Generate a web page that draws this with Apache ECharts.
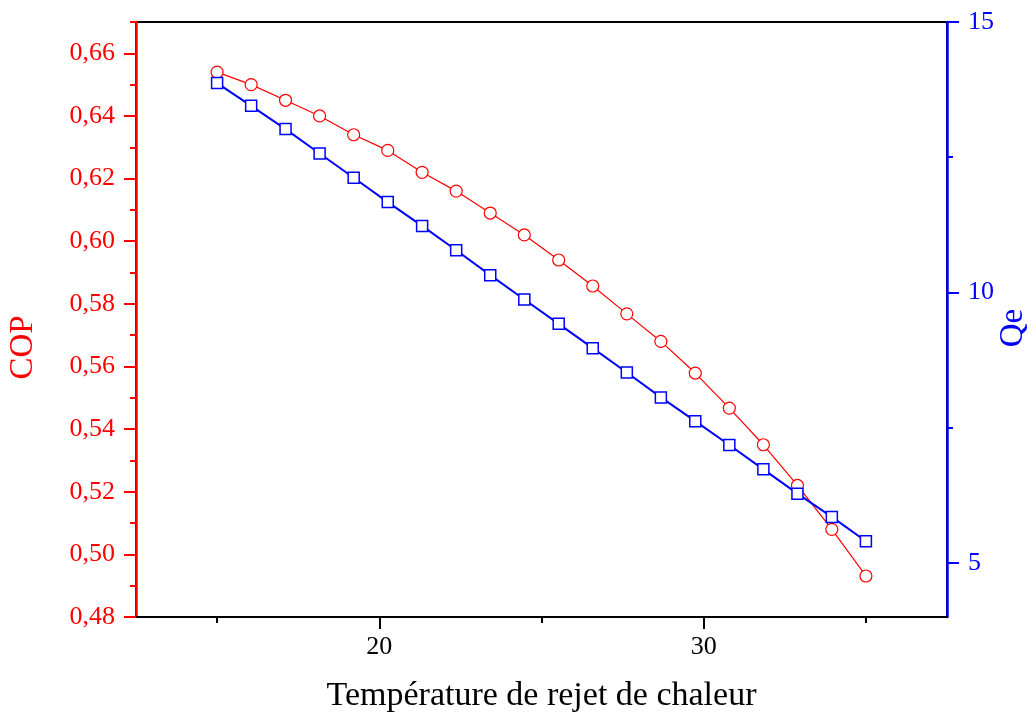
<!DOCTYPE html>
<html>
<head>
<meta charset="utf-8">
<script src="https://cdn.jsdelivr.net/npm/echarts@6/dist/echarts.min.js"></script>
<style>
html,body{margin:0;padding:0;background:#fff;}
#chart{width:1035px;height:720px;}
</style>
</head>
<body>
<div id="chart"></div>
<script>
// Data
const temps = [15, 16.05, 17.11, 18.16, 19.21, 20.26, 21.32, 22.37, 23.42, 24.47, 25.53, 26.58, 27.63, 28.68, 29.74, 30.79, 31.84, 32.89, 33.95, 35];
const cop = [0.654, 0.650, 0.645, 0.640, 0.634, 0.629, 0.622, 0.616, 0.609, 0.602, 0.594, 0.5857, 0.5768, 0.568, 0.5579, 0.5467, 0.535, 0.522, 0.508, 0.4931];
const qe = [13.87, 13.45, 13.02, 12.57, 12.12, 11.67, 11.23, 10.78, 10.32, 9.87, 9.42, 8.97, 8.52, 8.06, 7.62, 7.18, 6.73, 6.28, 5.85, 5.40];

// Tick labels / tick positions
const xMajorTicks = [20, 30];
const xMinorTicks = [15, 25, 35];
const copMajorTicks = [0.48, 0.50, 0.52, 0.54, 0.56, 0.58, 0.60, 0.62, 0.64, 0.66];
const copMinorTicks = [0.49, 0.51, 0.53, 0.55, 0.57, 0.59, 0.61, 0.63, 0.65, 0.67];
const qeMajorTicks = [5, 10, 15];
const qeMinorTicks = [7.5, 12.5];

const xTitle = 'Température de rejet de chaleur';
const copTitle = 'COP';
const qeTitle = 'Qe';

const FONT = '"Liberation Serif", "DejaVu Serif", serif';
const RED = '#ff0000';
const BLUE = '#0000ff';

const chart = echarts.init(document.getElementById('chart'), null, {renderer: 'canvas'});

const xRange = {min: 12.5, max: 37.5};
const copRange = {min: 0.48, max: 0.67};
const qeRange = {min: 4, max: 15};

const option = {
  animation: false,
  backgroundColor: '#fff',
  grid: {
    left: 136, right: 88, top: 22, bottom: 103,
    containLabel: false, outerBoundsMode: 'none',
    show: true, borderColor: '#000', borderWidth: 2, backgroundColor: 'transparent'
  },
  xAxis: [
    {
      type: 'value', position: 'bottom', min: xRange.min, max: xRange.max,
      name: xTitle, nameLocation: 'middle', nameGap: 62,
      nameTextStyle: {fontFamily: FONT, fontSize: 34, color: '#000'},
      axisLine: {show: true, onZero: false, lineStyle: {color: '#000', width: 2}},
      axisTick: {show: true, inside: false, length: 12, customValues: xMajorTicks, lineStyle: {color: '#000', width: 2}},
      axisLabel: {show: true, customValues: xMajorTicks, margin: 17, fontFamily: FONT, fontSize: 26, color: '#000'},
      splitLine: {show: false}
    },
    {
      type: 'value', position: 'bottom', min: xRange.min, max: xRange.max,
      axisLine: {show: false, onZero: false},
      axisTick: {show: true, length: 6, customValues: xMinorTicks, lineStyle: {color: '#000', width: 2}},
      axisLabel: {show: false},
      splitLine: {show: false}
    }
  ],
  yAxis: [
    {
      type: 'value', position: 'left', min: copRange.min, max: copRange.max,
      name: copTitle, nameLocation: 'middle', nameGap: 96, nameRotate: 90,
      nameTextStyle: {fontFamily: FONT, fontSize: 33, color: RED, padding: [0, 56, 0, 0]},
      axisLine: {show: true, onZero: false, lineStyle: {color: RED, width: 2.5}},
      axisTick: {show: true, length: 12, customValues: copMajorTicks, lineStyle: {color: RED, width: 2}},
      axisLabel: {show: true, customValues: copMajorTicks, margin: 21, fontFamily: FONT, fontSize: 26, color: RED,
        formatter: v => v.toFixed(2).replace('.', ',')},
      splitLine: {show: false}
    },
    {
      type: 'value', position: 'right', min: qeRange.min, max: qeRange.max,
      name: qeTitle, nameLocation: 'middle', nameGap: 50, nameRotate: 90, nameMoveOverlap: false,
      nameTextStyle: {fontFamily: FONT, fontSize: 33, color: BLUE, padding: [0, 17, 0, 0]},
      axisLine: {show: true, onZero: false, lineStyle: {color: BLUE, width: 2.5}},
      axisTick: {show: true, length: 12, customValues: qeMajorTicks, lineStyle: {color: BLUE, width: 2}},
      axisLabel: {show: true, customValues: qeMajorTicks, margin: 21, fontFamily: FONT, fontSize: 26, color: BLUE},
      splitLine: {show: false}
    },
    {
      type: 'value', position: 'left', min: copRange.min, max: copRange.max,
      axisLine: {show: false, onZero: false},
      axisTick: {show: true, length: 6, customValues: copMinorTicks, lineStyle: {color: RED, width: 2}},
      axisLabel: {show: false},
      splitLine: {show: false}
    },
    {
      type: 'value', position: 'right', min: qeRange.min, max: qeRange.max,
      axisLine: {show: false, onZero: false},
      axisTick: {show: true, length: 6, customValues: qeMinorTicks, lineStyle: {color: BLUE, width: 2}},
      axisLabel: {show: false},
      splitLine: {show: false}
    }
  ],
  series: [
    {
      name: copTitle, type: 'line', xAxisIndex: 0, yAxisIndex: 0,
      data: temps.map((t, i) => [t, cop[i]]),
      symbol: 'circle', symbolSize: 12,
      itemStyle: {color: '#fff', borderColor: RED, borderWidth: 1.2},
      lineStyle: {color: RED, width: 1.2},
      z: 2
    },
    {
      name: qeTitle, type: 'line', xAxisIndex: 0, yAxisIndex: 1,
      data: temps.map((t, i) => [t, qe[i]]),
      symbol: 'rect', symbolSize: 11,
      itemStyle: {color: '#fff', borderColor: BLUE, borderWidth: 1.5},
      lineStyle: {color: BLUE, width: 2},
      z: 3
    }
  ]
};
chart.setOption(option);
</script>
</body>
</html>
